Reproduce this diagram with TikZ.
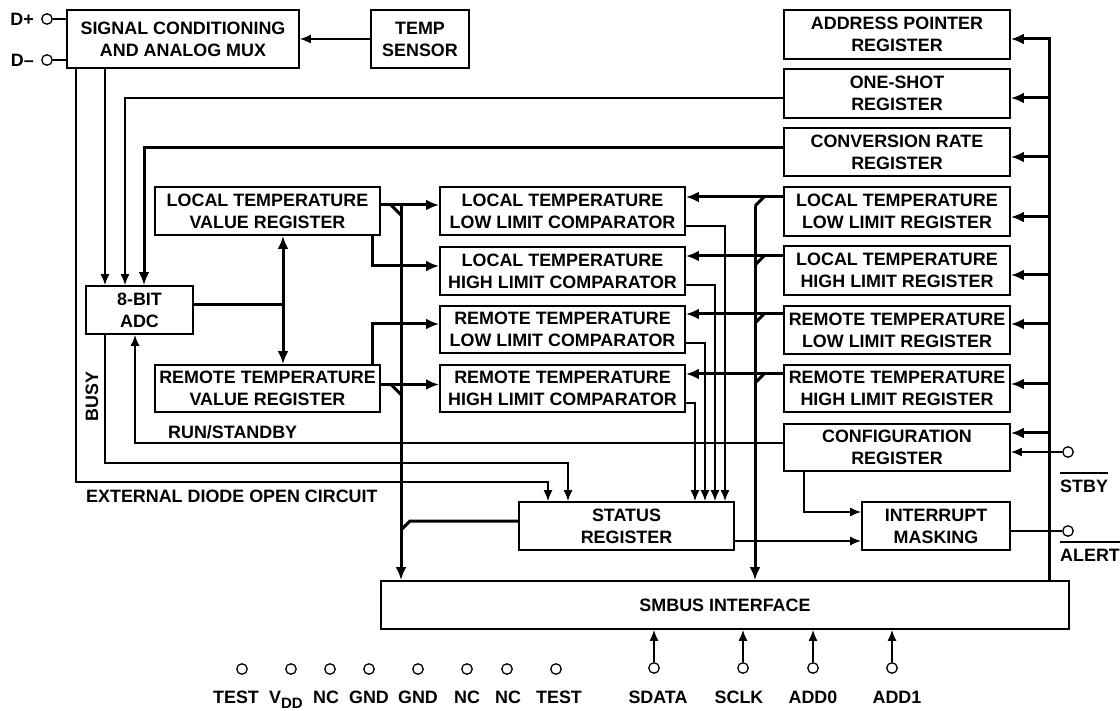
\documentclass[tikz,border=0pt]{standalone}
\usepackage{fontspec}
\setmainfont{Liberation Sans}
\usetikzlibrary{arrows.meta}
\newcommand\lblfont{\fontsize{17.9}{22}\selectfont\bfseries}
\begin{document}
\begin{tikzpicture}[x=1pt,y=-1pt,
  blk/.style={draw, line width=1.8pt, inner sep=0pt, align=center, font=\lblfont, minimum height=48pt},
  thin/.style={line width=1.5pt},
  bold/.style={line width=3pt},
  tarr/.style={thin, -{Latex[length=11pt,width=9pt]}},
  barr/.style={bold, -{Latex[length=13pt,width=11pt]}},
  dbarr/.style={bold, {Latex[length=13pt,width=11pt]}-{Latex[length=13pt,width=11pt]}},
  pin/.style={circle, draw, line width=1.3pt, minimum size=10.5pt, inner sep=0pt},
  lbl/.style={inner sep=0pt, font=\lblfont},
]
\useasboundingbox (0,0) rectangle (1120,711);

% ---- blocks
\node[blk, minimum width=232pt, minimum height=58pt] (sig) at (183,39) {SIGNAL CONDITIONING\\AND ANALOG MUX};
\node[blk, minimum width=98pt, minimum height=58pt] (temp) at (420,39) {TEMP\\SENSOR};
\node[blk, minimum width=226pt, minimum height=49pt] (addr) at (897,34.5) {ADDRESS POINTER\\REGISTER};
\node[blk, minimum width=226pt, minimum height=49pt] (oneshot) at (897,93.5) {ONE-SHOT\\REGISTER};
\node[blk, minimum width=226pt] (conv) at (897,152) {CONVERSION RATE\\REGISTER};
\node[blk, minimum width=226pt, minimum height=49pt] (ltllr) at (897,211.5) {LOCAL TEMPERATURE\\LOW LIMIT REGISTER};
\node[blk, minimum width=226pt, minimum height=49pt] (lthlr) at (897,270.5) {LOCAL TEMPERATURE\\HIGH LIMIT REGISTER};
\node[blk, minimum width=226pt] (rtllr) at (897,330) {REMOTE TEMPERATURE\\LOW LIMIT REGISTER};
\node[blk, minimum width=226pt, minimum height=47pt] (rthlr) at (897,388.5) {REMOTE TEMPERATURE\\HIGH LIMIT REGISTER};
\node[blk, minimum width=226pt, minimum height=47pt] (config) at (897,447.5) {CONFIGURATION\\REGISTER};
\node[blk, minimum width=148pt] (intmask) at (936,526) {INTERRUPT\\MASKING};
\node[blk, minimum width=215pt] (status) at (626.5,526) {STATUS\\REGISTER};
\node[blk, minimum width=688pt] (smbus) at (725,605) {SMBUS INTERFACE};
\node[blk, minimum width=107pt] (adc) at (139.5,310) {8-BIT\\ADC};
\node[blk, minimum width=225pt] (ltvr) at (267.5,211) {LOCAL TEMPERATURE\\VALUE REGISTER};
\node[blk, minimum width=225pt, minimum height=47pt] (rtvr) at (267.5,388.5) {REMOTE TEMPERATURE\\VALUE REGISTER};
\node[blk, minimum width=245pt] (ltllc) at (562.5,211) {LOCAL TEMPERATURE\\LOW LIMIT COMPARATOR};
\node[blk, minimum width=245pt] (lthlc) at (562.5,271) {LOCAL TEMPERATURE\\HIGH LIMIT COMPARATOR};
\node[blk, minimum width=245pt, minimum height=47pt] (rtllc) at (562.5,329.5) {REMOTE TEMPERATURE\\LOW LIMIT COMPARATOR};
\node[blk, minimum width=245pt, minimum height=47pt] (rthlc) at (562.5,388.5) {REMOTE TEMPERATURE\\HIGH LIMIT COMPARATOR};

% ---- D+ / D- pins
\node[pin] (dplus) at (47,19) {};
\node[pin] (dminus) at (47,60) {};
\node[lbl, anchor=east] (dpl) at (34,19) {D+};
\node[lbl, anchor=east] (dml) at (34,60) {D–};
\draw[thin] (dplus) -- (sig.west |- dplus);
\draw[thin] (dminus) -- (sig.west |- dminus);
\draw[tarr] (temp.west) -- (sig.east);

% ---- right bus
\coordinate (rbtop) at (1049,37.5);
\draw[bold] (rbtop) -- (smbus.north -| rbtop);
\foreach \n/\y in {addr/39, oneshot/98, conv/157, ltllr/217, lthlr/275, rtllr/324, rthlr/384, config/433}
  \draw[barr] (1049,\y) -- (\n.east |- 0,\y);

% ---- STBY / ALERT
\node[pin] (stby) at (1068,452) {};
\node[pin] (alert) at (1068,531) {};
\draw[tarr] (stby) -- (config.east |- stby);
\draw[thin] (intmask.east |- alert) -- (alert);
\node[lbl, anchor=west] (stbyl) at (1060,486) {STBY};
\draw[thin] ([yshift=6.5pt]stbyl.north west) -- ([yshift=6.5pt]stbyl.north east);
\node[lbl, anchor=west] (alertl) at (1060,555) {ALERT};
\draw[thin] ([yshift=6.5pt]alertl.north west) -- ([yshift=6.5pt]alertl.north east);

% ---- registers to comparators, middle bus
\draw[barr] (ltllr.west |- 0,197) -- (ltllc.east |- 0,197);
\draw[barr] (lthlr.west |- 0,256) -- (lthlc.east |- 0,256);
\draw[barr] (rtllr.west |- 0,314) -- (rtllc.east |- 0,314);
\draw[barr] (rthlr.west |- 0,374) -- (rthlc.east |- 0,374);
\coordinate (mb) at (755,206);
\draw[barr] (mb) -- (smbus.north -| mb);
\draw[bold] (mb) -- (764,197);
\foreach \y in {256,314,374} \draw[bold] (764,\y) -- (755,\y+9);

% ---- value registers to comparators, left bus
\draw[barr] (ltvr.east |- 0,205) -- (ltllc.west |- 0,205);
\draw[barr] (ltvr.south -| 372,0) |- (lthlc.west |- 0,266);
\draw[barr] (rtvr.north -| 372,0) |- (rtllc.west |- 0,324);
\draw[barr] (rtvr.east |- 0,384.5) -- (rthlc.west |- 0,384.5);
\coordinate (lb) at (401,205);
\draw[barr] (lb) -- (smbus.north -| lb);
\draw[bold] (391,205) -- (401,215);
\draw[bold] (391,384.5) -- (401,394.5);
\draw[bold] (status.west |- 0,521) -- (410,521) -- (401,530);

% ---- comparator outputs to status
\draw[tarr] (ltllc.east |- 0,226) -| (status.north -| 725,0);
\draw[tarr] (lthlc.east |- 0,285) -| (status.north -| 715,0);
\draw[tarr] (rtllc.east |- 0,343) -| (status.north -| 705,0);
\draw[tarr] (rthlc.east |- 0,403) -| (status.north -| 695,0);

% ---- ADC connections
\draw[tarr] (sig.south -| 105,0) -- (adc.north -| 105,0);
\draw[tarr] (oneshot.west |- 0,98) -| (adc.north -| 125,0);
\draw[barr] (conv.west |- 0,148) -| (adc.north -| 144,0);
\draw[tarr] (config.west |- 0,443) -| (adc.south -| 135,0);
\draw[bold] (adc.east |- 0,305) -- (283,305);
\draw[dbarr] (ltvr.south -| 283,0) -- (rtvr.north -| 283,0);
\draw[tarr] (adc.south -| 105,0) -- (105,463) -| (status.north -| 568,0);
\draw[tarr] (sig.south -| 76,0) -- (76,482) -| (status.north -| 548,0);

% ---- config / status to interrupt masking
\draw[tarr] (config.south -| 804,0) |- (intmask.west |- 0,512);
\draw[tarr] (status.east |- 0,541) -- (intmask.west |- 0,541);

% ---- labels
\node[lbl, anchor=west] (runst) at (168,432) {RUN/STANDBY};
\node[lbl, rotate=90] (busyl) at (92,396.5) {BUSY};
\node[lbl, anchor=west] (extd) at (86,496.5) {EXTERNAL DIODE OPEN CIRCUIT};

% ---- bottom pins
\foreach \i/\x in {1/242,2/291,3/330,4/369,5/418,6/467,7/507,8/556}
  \node[pin] (bp\i) at (\x,669) {};
\foreach \n/\x in {sdata/654, sclk/743, addz/813, addo/892} {
  \node[pin] (\n) at (\x,668) {};
  \draw[tarr] (\n) -- (smbus.south -| \n);
}
\foreach \n/\x/\t in {l1/236/TEST, l3/326/NC, l4/369/GND, l5/418/GND, l6/467/NC, l7/508/NC, l8/559/TEST, l9/658/SDATA, l10/739/SCLK, l11/813/ADD0, l12/897/ADD1}
  \node[lbl, anchor=base] (\n) at (\x,703.5) {\t};
\node[lbl, anchor=base] (l2) at (286,703.5) {V\raisebox{-5pt}{\fontsize{15}{15}\selectfont DD}};
\end{tikzpicture}
\end{document}
